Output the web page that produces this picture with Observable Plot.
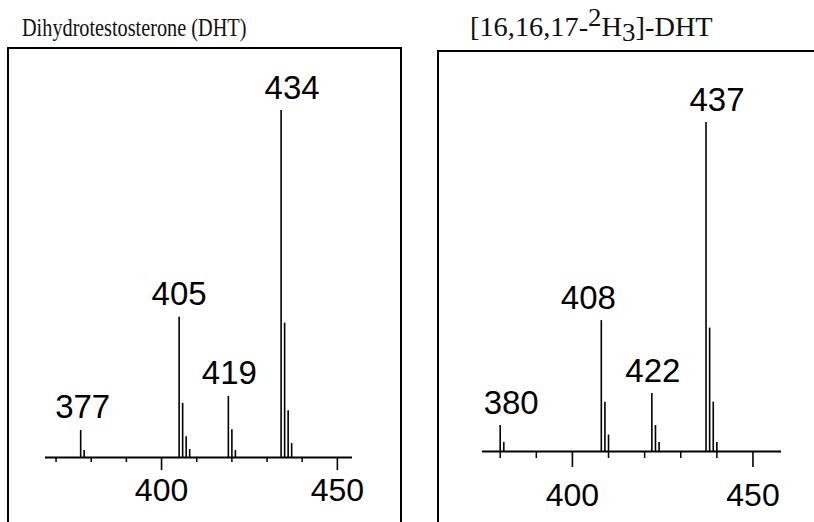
<!DOCTYPE html>
<html>
<head>
<meta charset="utf-8">
<script src="https://cdn.jsdelivr.net/npm/d3@7"></script>
<script src="https://cdn.jsdelivr.net/npm/@observablehq/plot@0.6"></script>
<style>
  html, body { margin: 0; padding: 0; background: #fff; overflow: hidden; }
  #wrap { position: relative; width: 814px; height: 522px; overflow: hidden; background: #fff; }
  .frame { position: absolute; border: 2px solid #000; border-bottom: none; box-sizing: border-box; }
  .title { position: absolute; font-family: "Liberation Serif", "DejaVu Serif", serif; line-height: 1; color: #111; white-space: nowrap; transform-origin: 0 50%; }
  .title sup { font-size: 0.95em; vertical-align: 0; position: relative; top: -0.4em; }
  .title sub { font-size: 0.95em; vertical-align: 0; position: relative; top: 0.2em; }
  .panel { position: absolute; top: 0; }
</style>
</head>
<body>
<div id="wrap">
  <div class="frame" style="left:7px; top:47px; width:395px; height:490px;"></div>
  <div class="frame" style="left:437px; top:50px; width:400px; height:490px; border-right:none;"></div>
  <div class="title" style="left:22px; top:15px; font-size:25px; transform:scaleX(0.81);">Dihydrotestosterone (DHT)</div>
  <div class="title" style="left:470px; top:14px; font-size:27px; transform:scaleX(1.05);">[16,16,17-<sup>2</sup>H<sub>3</sub>]-DHT</div>
  <div id="left" class="panel" style="left:0px;"></div>
  <div id="right" class="panel" style="left:420px;"></div>
</div>
<script>
// Left spectrum: Dihydrotestosterone (DHT)
const dhtMz  = [377, 378, 405, 406, 407, 408, 419, 420, 421, 434, 435, 436, 437];
const dhtInt = [7.8, 2.0, 40.4, 15.6, 6.0, 2.3, 17.6, 8.0, 2.0, 100, 38.7, 13.5, 4.0];
const dhtLabels = [377, 405, 419, 434];

// Right spectrum: [16,16,17-2H3]-DHT
const d3Mz  = [380, 381, 408, 409, 410, 422, 423, 424, 437, 438, 439, 440];
const d3Int = [7.9, 2.7, 39.8, 15.0, 5.0, 17.6, 7.9, 2.7, 100, 37.5, 15.0, 2.7];
const d3Labels = [380, 408, 422, 437];

const majorTicks = [400, 450];
const minorTicksLeft = [370, 380, 390, 410, 420, 430, 440];
const minorTicksRight = [380, 390, 410, 420, 430, 440];

const sans = "'Liberation Sans', Arial, Helvetica, sans-serif";

function spectrum({mz, inten, labels, nudges, domain, width, mTop, mBottom, mLeft, mRight, major, minor, majorSize, minorSize, pad}) {
  const peaks = mz.map((m, i) => ({mz: m, y: inten[i]}));
  const lab = labels.map(m => ({mz: m, y: inten[mz.indexOf(m)], t: String(m), dx: nudges[m] || 0}));
  return Plot.plot({
    width, height: 522,
    marginTop: mTop, marginBottom: mBottom, marginLeft: mLeft, marginRight: mRight,
    style: {background: "transparent", fontFamily: sans, color: "#000", overflow: "visible"},
    x: {domain, axis: null, label: null},
    y: {domain: [0, 100], axis: null},
    marks: [
      Plot.ruleY([0], {stroke: "#000", strokeWidth: 2}),
      Plot.ruleX(peaks, {x: "mz", y1: 0, y2: "y", stroke: "#000", strokeWidth: 1.6}),
      ...lab.map(d => Plot.text([d], {x: "mz", y: "y", text: "t", dx: d.dx, dy: -12, lineAnchor: "bottom", textAnchor: "middle", fontSize: 33, fill: "#000"})),
      Plot.axisX({ticks: minor, tickSize: minorSize, tickFormat: () => "", strokeWidth: 1.5, anchor: "bottom", label: null}),
      Plot.axisX({ticks: major, tickSize: majorSize, tickPadding: pad, tickFormat: d => String(d), fontSize: 32, strokeWidth: 1.6, anchor: "bottom", label: null})
    ]
  });
}

document.getElementById("left").appendChild(spectrum({
  mz: dhtMz, inten: dhtInt, labels: dhtLabels, nudges: {377: 2, 405: 0, 419: 1, 434: 11},
  domain: [367, 454.3], width: 410, mTop: 110, mBottom: 65, mLeft: 45, mRight: 58,
  major: majorTicks, minor: minorTicksLeft, majorSize: 13, minorSize: 5, pad: 8
}));

document.getElementById("right").appendChild(spectrum({
  mz: d3Mz, inten: d3Int, labels: d3Labels, nudges: {380: 11, 408: -13, 422: 1, 437: 11},
  domain: [375.1, 457.9], width: 394, mTop: 122, mBottom: 71, mLeft: 62, mRight: 33,
  major: majorTicks, minor: minorTicksRight, majorSize: 16, minorSize: 7, pad: 16
}));
</script>
</body>
</html>
